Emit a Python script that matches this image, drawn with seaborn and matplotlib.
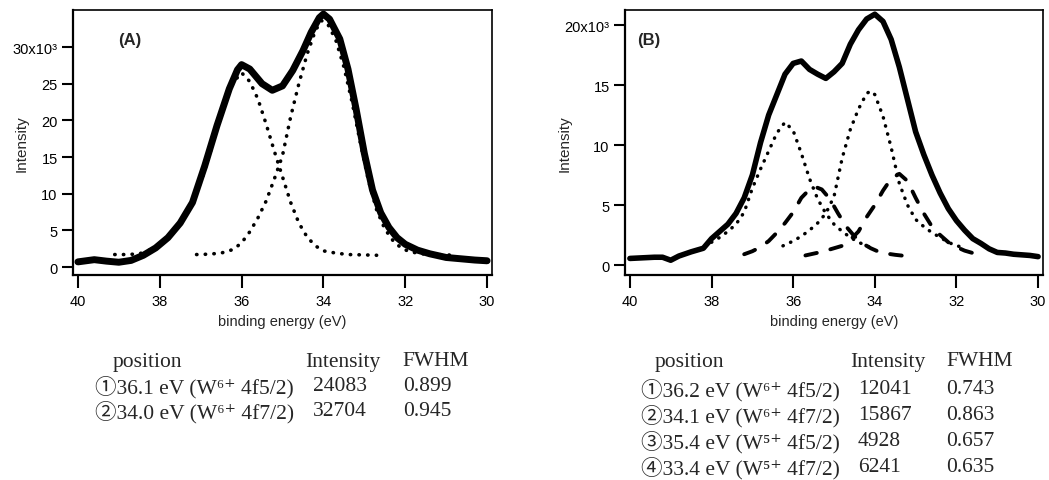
import matplotlib
matplotlib.use("Agg")
import matplotlib.pyplot as plt
import seaborn as sns

# ---------------- data (intensity in units of 10^3) ----------------
A_total_x = [40.0, 39.8, 39.6, 39.3, 39.0, 38.7, 38.4, 38.1, 37.8, 37.5, 37.2, 36.9, 36.6, 36.3,
             36.1, 36.0, 35.8, 35.5, 35.25, 35.0, 34.75, 34.5, 34.3, 34.1, 34.0, 33.85, 33.6, 33.4,
             33.2, 33.0, 32.8, 32.6, 32.4, 32.2, 32.0, 31.7, 31.4, 31.0, 30.6, 30.3, 30.0]
A_total_y = [0.7, 0.85, 1.0, 0.8, 0.65, 0.9, 1.6, 2.6, 4.0, 6.0, 8.8, 13.8, 19.3, 24.3,
             26.9, 27.6, 27.0, 25.0, 24.1, 24.7, 26.8, 29.5, 32.0, 34.0, 34.5, 33.8, 31.1, 27.0,
             21.5, 15.5, 10.5, 7.4, 5.4, 4.0, 3.1, 2.3, 1.8, 1.3, 1.1, 0.95, 0.85]

A_c1_x = [39.1, 38.8, 38.5, 38.2, 38.0, 37.8, 37.5, 37.2, 37.0, 36.8, 36.6, 36.4, 36.2, 36.0,
          35.8, 35.6, 35.4, 35.2, 35.0, 34.8, 34.6, 34.4, 34.2, 34.0, 33.7, 33.4, 33.0, 32.7]
A_c1_y = [1.7, 1.7, 1.8, 2.4, 3.0, 3.9, 5.8, 8.6, 11.5, 15.0, 19.0, 22.5, 25.2, 26.5,
          25.3, 22.9, 19.5, 15.8, 12.3, 8.8, 6.0, 4.1, 2.9, 2.2, 1.9, 1.7, 1.65, 1.6]

A_c2_x = [37.1, 36.8, 36.5, 36.2, 36.0, 35.8, 35.6, 35.4, 35.2, 35.0, 34.8, 34.6, 34.4, 34.2,
          34.05, 33.9, 33.7, 33.5, 33.3, 33.1, 32.9, 32.7, 32.5, 32.3, 32.1, 31.9, 31.6, 31.3,
          31.0, 30.75]
A_c2_y = [1.7, 1.75, 1.9, 2.4, 3.3, 4.8, 6.7, 9.0, 12.0, 15.2, 20.5, 25.0, 29.0, 32.2,
          33.6, 33.2, 31.0, 27.3, 22.5, 17.0, 11.8, 7.8, 5.2, 3.6, 2.6, 2.1, 1.8, 1.7,
          1.65, 1.6]

B_total_x = [40.0, 39.7, 39.4, 39.2, 39.0, 38.8, 38.5, 38.2, 38.0, 37.8, 37.6, 37.4, 37.2, 37.0,
             36.8, 36.6, 36.4, 36.2, 36.0, 35.8, 35.6, 35.4, 35.2, 35.0, 34.8, 34.6, 34.4, 34.2,
             34.0, 33.8, 33.6, 33.4, 33.2, 33.0, 32.8, 32.6, 32.4, 32.2, 32.0, 31.8, 31.6, 31.4,
             31.2, 31.0, 30.8, 30.6, 30.4, 30.2, 30.0]
B_total_y = [0.55, 0.6, 0.65, 0.65, 0.4, 0.75, 1.1, 1.4, 2.2, 2.8, 3.4, 4.3, 5.6, 7.5,
             10.2, 12.5, 14.2, 15.9, 16.8, 17.0, 16.3, 15.9, 15.55, 16.1, 16.8, 18.4, 19.6, 20.5,
             20.9, 20.3, 18.8, 16.5, 13.8, 11.1, 9.2, 7.5, 6.0, 4.7, 3.7, 2.9, 2.2, 1.8,
             1.35, 1.05, 1.0, 0.9, 0.85, 0.8, 0.7]

B_c1_x = [38.0, 37.8, 37.6, 37.4, 37.2, 37.0, 36.8, 36.6, 36.4, 36.2, 36.0, 35.8, 35.6, 35.4,
          35.2, 35.0, 34.8, 34.6, 34.4, 34.2, 34.0]
B_c1_y = [1.9, 2.3, 2.8, 3.4, 4.4, 6.4, 8.0, 9.5, 11.0, 11.9, 11.2, 9.3, 7.2, 5.5,
          4.3, 3.4, 2.8, 2.3, 1.9, 1.6, 1.3]

B_c2_x = [36.25, 36.0, 35.8, 35.6, 35.4, 35.2, 35.0, 34.8, 34.6, 34.4, 34.2, 34.1, 34.0, 33.8,
          33.6, 33.4, 33.2, 33.0, 32.8, 32.6, 32.4, 32.2, 32.0, 31.85]
B_c2_y = [1.6, 2.0, 2.4, 2.9, 3.5, 4.3, 5.7, 8.9, 11.3, 13.0, 14.3, 14.5, 14.2, 12.4,
          9.8, 6.8, 5.0, 3.8, 3.2, 2.7, 2.3, 1.9, 1.6, 1.5]

B_c3_x = [37.2, 37.0, 36.8, 36.6, 36.4, 36.2, 36.0, 35.8, 35.6, 35.45, 35.3, 35.1, 34.9, 34.7,
          34.5, 34.3, 34.1, 33.9, 33.7, 33.5, 33.1]
B_c3_y = [0.9, 1.15, 1.5, 2.0, 2.7, 3.5, 4.4, 5.6, 6.3, 6.5, 6.3, 5.5, 4.3, 3.2,
          2.4, 1.8, 1.4, 1.1, 0.95, 0.85, 0.7]

B_c4_x = [35.7, 35.3, 35.0, 34.8, 34.6, 34.4, 34.2, 34.0, 33.8, 33.6, 33.4, 33.2, 33.0, 32.8,
          32.6, 32.4, 32.2, 32.0, 31.8, 31.6, 31.3]
B_c4_y = [0.8, 1.1, 1.4, 1.6, 2.1, 2.8, 4.0, 5.0, 6.2, 7.2, 7.6, 7.0, 5.6, 4.3,
          3.2, 2.5, 1.9, 1.5, 1.2, 1.0, 0.8]

x_ticks = [40, 38, 36, 34, 32, 30]
A_yticks = [0, 5, 10, 15, 20, 25, 30]
A_yticklabels = ["0", "5", "10", "15", "20", "25", "30x10³"]
B_yticks = [0, 5, 10, 15, 20]
B_yticklabels = ["0", "5", "10", "15", "20x10³"]

table_header = ["position", "Intensity", "FWHM"]
A_pos = ["①36.1 eV (W⁶⁺ 4f5/2)", "②34.0 eV (W⁶⁺ 4f7/2)"]
A_int = ["24083", "32704"]
A_fwhm = ["0.899", "0.945"]
B_pos = ["①36.2 eV (W⁶⁺ 4f5/2)", "②34.1 eV (W⁶⁺ 4f7/2)",
         "③35.4 eV (W⁵⁺ 4f5/2)", "④33.4 eV (W⁵⁺ 4f7/2)"]
B_int = ["12041", "15867", "4928", "6241"]
B_fwhm = ["0.743", "0.863", "0.657", "0.635"]

# ---------------- style ----------------
sns.set_style("ticks")
plt.rcParams["font.family"] = ["Liberation Sans", "DejaVu Sans"]

W, H = 1049, 481
fig = plt.figure(figsize=(W / 100, H / 100), dpi=100)


def px_axes(l, t, r, b):
    return fig.add_axes([l / W, 1 - b / H, (r - l) / W, (b - t) / H])


axA = px_axes(73, 11, 492, 276)
axB = px_axes(625, 11, 1043, 276)

solid_kw = dict(color="black", solid_capstyle="round", solid_joinstyle="round")
dot_kw = dict(color="black", linestyle=(0, (0.1, 2.3)), dash_capstyle="round")
dash_kw = dict(color="black", linestyle=(0, (3.0, 3.6)), dash_capstyle="round")


def line(ax, x, y, lw, kw):
    sns.lineplot(x=x, y=y, ax=ax, sort=False, estimator=None, lw=lw, **kw)


line(axA, A_c1_x, A_c1_y, 2.6, dot_kw)
line(axA, A_c2_x, A_c2_y, 2.6, dot_kw)
line(axA, A_total_x, A_total_y, 5.0, solid_kw)

line(axB, B_c1_x, B_c1_y, 2.5, dot_kw)
line(axB, B_c2_x, B_c2_y, 2.5, dot_kw)
line(axB, B_c3_x, B_c3_y, 2.8, dash_kw)
line(axB, B_c4_x, B_c4_y, 2.8, dash_kw)
line(axB, B_total_x, B_total_y, 4.0, solid_kw)

for ax, yt, ytl, ylim, lab, labx, ylx, xlx in [
    (axA, A_yticks, A_yticklabels, (-1.09, 35.05), "(A)", 0.107, -0.105, 0.5),
    (axB, B_yticks, B_yticklabels, (-0.83, 21.25), "(B)", 0.029, -0.127, 0.5),
]:
    ax.set_xlim(40.12, 29.88)
    ax.set_ylim(*ylim)
    ax.set_xticks(x_ticks)
    ax.set_xticklabels([str(v) for v in x_ticks])
    ax.set_yticks(yt)
    ax.set_yticklabels(ytl)
    ax.tick_params(axis="x", direction="out", length=9, width=1.5,
                   labelsize=10.5, colors="black", pad=5)
    ax.tick_params(axis="y", direction="out", length=8, width=1.5,
                   labelsize=10.5, colors="black", pad=3)
    for s in ["left", "bottom"]:
        ax.spines[s].set_linewidth(1.6)
    for s in ["top", "right"]:
        ax.spines[s].set_linewidth(1.2)
        ax.spines[s].set_visible(True)
    for s in ax.spines.values():
        s.set_color("black")
    ax.set_xlabel("binding energy (eV)", fontsize=10.5)
    ax.set_ylabel("Intensity", fontsize=11)
    ax.xaxis.set_label_coords(xlx, -0.147)
    ax.yaxis.set_label_coords(ylx, 0.5)
    ax.text(labx, 0.89, lab, transform=ax.transAxes, fontsize=12,
            fontweight="bold", ha="left", va="center")

serif = ["Liberation Serif", "DejaVu Serif", "Noto Sans CJK JP"]
tfs = 15.5


def ftext(xpx, ypx, s):
    fig.text(xpx / W, 1 - ypx / H, s, ha="left", va="center",
             fontsize=tfs, family=serif)


# table A
ftext(113, 362, table_header[0])
ftext(305, 362, table_header[1])
ftext(402, 362, table_header[2])
for i, (p, n, f) in enumerate(zip(A_pos, A_int, A_fwhm)):
    y = 387 + 25 * i
    ftext(95, y, p)
    ftext(313, y, n)
    ftext(403, y, f)

# table B
ftext(655, 362, table_header[0])
ftext(850, 362, table_header[1])
ftext(946, 362, table_header[2])
for i, (p, n, f) in enumerate(zip(B_pos, B_int, B_fwhm)):
    y = 390 + 26 * i
    ftext(641, y, p)
    ftext(858, y, n)
    ftext(946, y, f)

fig.savefig("out.png", dpi=100)
